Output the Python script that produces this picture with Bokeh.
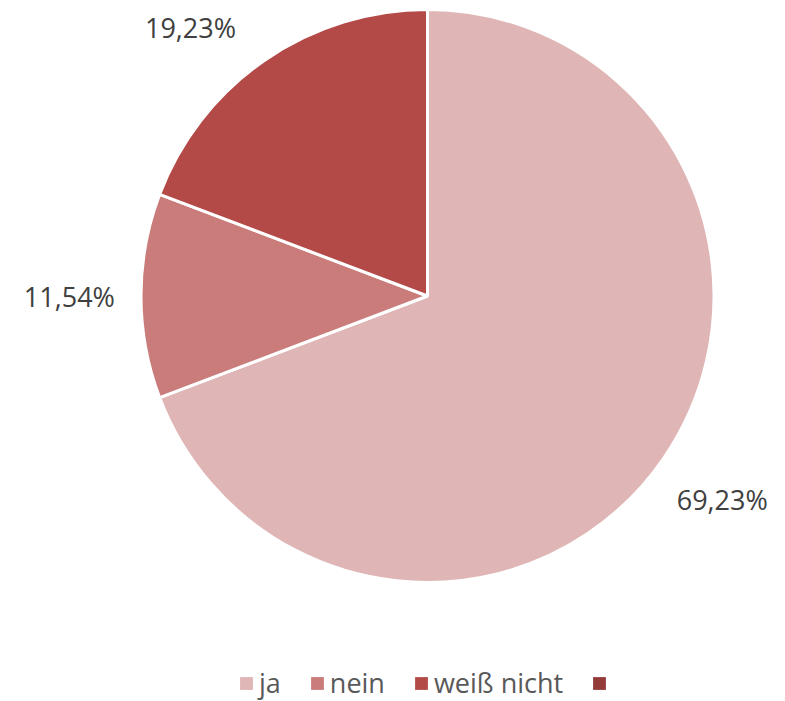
import numpy as np
from bokeh.plotting import figure
from bokeh.models import ColumnDataSource, Legend, LegendItem, Range1d
from bokeh.core.properties import value
from bokeh.embed import file_html
from bokeh.resources import INLINE

categories = ["ja", "nein", "weiß nicht", ""]
percents = [69.23, 11.54, 19.23, 0.0]
colors = ["#DFB5B5", "#C97C7A", "#B34A48", "#943A38"]

W, H = 785, 701
cx, cy, R = 427, H - 295.5, 286.5

frac = np.array(percents) / 100.0
cum_end = np.cumsum(frac)
cum_start = cum_end - frac
start = np.pi / 2 - 2 * np.pi * cum_start
end = np.pi / 2 - 2 * np.pi * cum_end
mid = np.pi / 2 - 2 * np.pi * (cum_start + frac / 2)

keep = [i for i, v in enumerate(percents) if v > 0]

src = ColumnDataSource(dict(cat=[categories[i] for i in keep],
                            start=[start[i] for i in keep],
                            end=[end[i] for i in keep],
                            color=[colors[i] for i in keep],
                            x=[cx] * len(keep), y=[cy] * len(keep)))

p = figure(width=W, height=H, output_backend="svg", toolbar_location=None,
           x_range=Range1d(0, W), y_range=Range1d(0, H), min_border=0)
p.axis.visible = False
p.grid.visible = False
p.outline_line_color = None
p.background_fill_color = "white"
p.border_fill_color = "white"

p.wedge(x="x", y="y", radius=R, start_angle="start", end_angle="end",
        direction="clock", fill_color="color", line_color="white",
        line_width=3, source=src)

# data labels (outside end, kept inside the canvas)
lab_r = 1.25 * R
ly = np.minimum(cy + lab_r * np.sin(mid), H - 27)
dy = ly - cy
lx = cx + np.sign(np.cos(mid)) * np.sqrt(np.maximum(lab_r ** 2 - dy ** 2, 0))
labels = [("%.2f%%" % v).replace(".", ",") for v in percents]
lsrc = ColumnDataSource(dict(x=[lx[i] for i in keep], y=[ly[i] for i in keep],
                             t=[labels[i] for i in keep]))
p.text(x="x", y="y", text="t", source=lsrc, text_align="center",
       text_baseline="middle", text_font=value("Open Sans"),
       text_font_size="27px", text_color="#404040")

# legend swatches (no geometry drawn, only used by the legend)
nan = [np.nan] * len(categories)
legsrc = ColumnDataSource(dict(l=nan, r=nan, t=nan, b=nan, color=colors))
lr = p.quad(left="l", right="r", top="t", bottom="b", fill_color="color",
            line_color=None, source=legsrc)

items = [LegendItem(label=categories[i], renderers=[lr], index=i)
         for i in range(len(categories))]
legend = Legend(items=items, orientation="horizontal", location=(238, 0),
                padding=0, margin=0, spacing=28, label_standoff=5,
                glyph_width=16, glyph_height=16,
                label_text_font="Open Sans", label_text_font_size="27px",
                label_text_color="#595959", border_line_color=None,
                background_fill_alpha=0)
p.add_layout(legend, "center")

open("out.html", "w").write(file_html(p, INLINE))
